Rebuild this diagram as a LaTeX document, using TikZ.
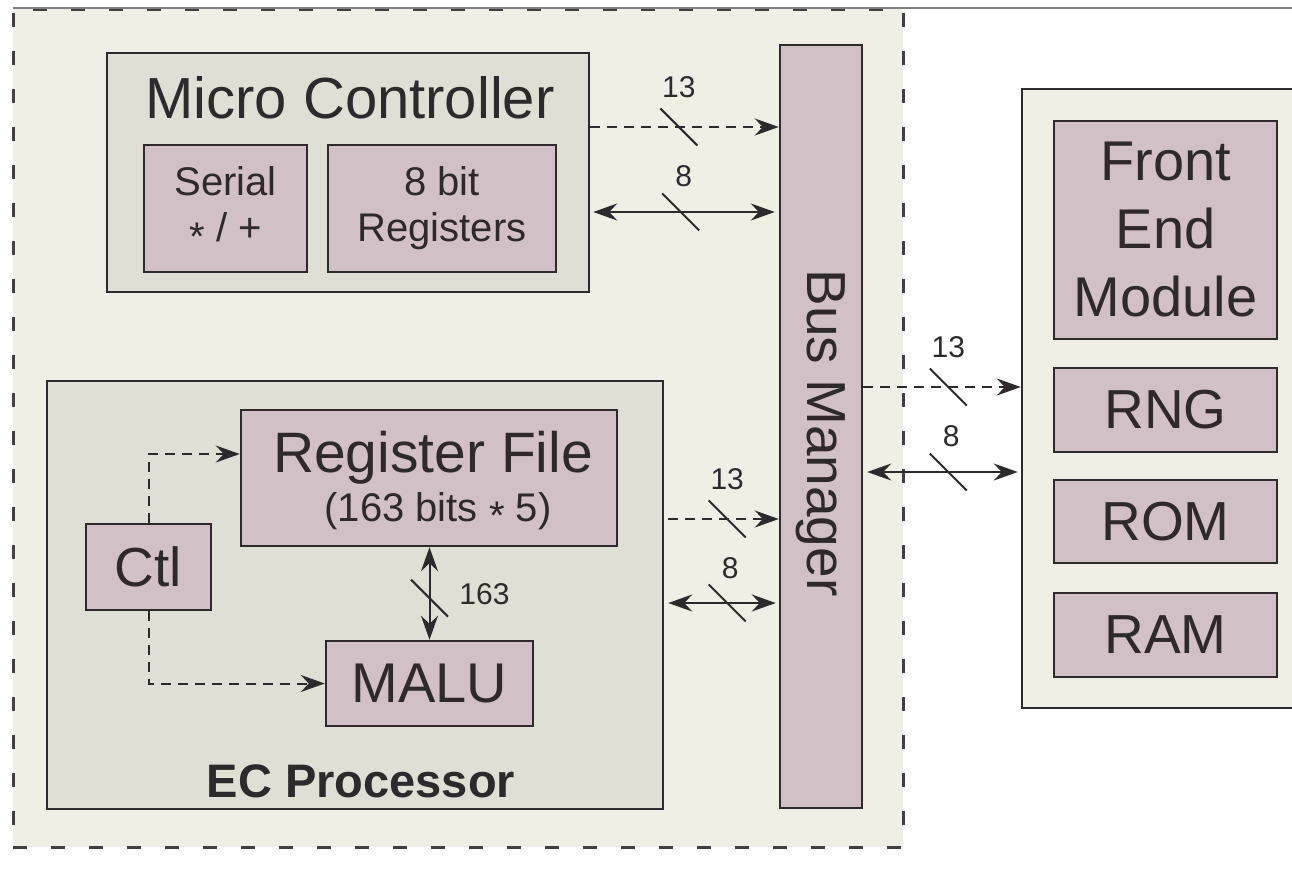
\documentclass[tikz,border=0pt]{standalone}
\usepackage{fontspec}
\setmainfont{Liberation Sans}
\usetikzlibrary{arrows.meta,calc}
\definecolor{cream}{HTML}{EFEFE6}
\definecolor{grayb}{HTML}{DFDFD5}
\definecolor{mauve}{HTML}{D1C0C6}
\definecolor{ink}{HTML}{2E2A2B}
\newcommand{\fs}[1]{\fontsize{#1}{#1}\selectfont}
\newcommand{\midstar}{\raisebox{-0.22em}{*}}
\begin{document}
\begin{tikzpicture}[x=1pt,y=-1pt,
  >={Stealth[length=24pt,width=17pt,inset=8pt]},
  blk/.style={draw=ink, line width=2.5pt, inner sep=0pt, text=ink},
  modbox/.style={blk, fill=mauve},
  grpbox/.style={blk, fill=grayb},
  conn/.style={draw=ink, line width=2pt},
  dconn/.style={conn, dash pattern=on 10pt off 7pt},
  slashln/.style={draw=ink, line width=2pt},
  lbl/.style={text=ink, inner sep=0pt, font=\fs{30}},
  txt/.style={text=ink, inner sep=0pt}]
\useasboundingbox (0,0) rectangle (1292,868);
\clip (0,0) rectangle (1292,868);
\fill[white] (0,0) rectangle (1292,868);
% outer dashed system box
\node[draw=ink!90, fill=cream, line width=3pt, dash pattern=on 14pt off 24pt,
      minimum width=890pt, minimum height=838pt, inner sep=0pt] (sys) at (458,428) {};
\draw[gray, line width=1.5pt] (13,8) -- (1292,8);
% right box
\node[blk, fill=cream, minimum width=300pt, minimum height=619pt] (ext) at (1172,398.5) {};
% micro controller
\node[grpbox, minimum width=482pt, minimum height=239pt] (mc) at (348,172.5) {};
\node[txt, anchor=base, font=\fs{58}] (mct) at (350,118) {Micro Controller};
\node[modbox, minimum width=163pt, minimum height=127pt, align=center, font=\fs{40}] (ser) at (225.5,208.5) {Serial\\[6pt]\midstar{} / +};
\node[modbox, minimum width=228pt, minimum height=127pt, align=center, font=\fs{40}] (reg) at (442,208.5) {8 bit\\[6pt]Registers};
% bus manager
\node[modbox, minimum width=82pt, minimum height=763pt] (bus) at (821,426.5) {};
\node[txt, rotate=-90, font=\fs{55}] (bust) at (821,433) {Bus Manager};
% EC processor
\node[grpbox, minimum width=616pt, minimum height=428pt] (ec) at (355,595) {};
\node[txt, anchor=base, font=\bfseries\fs{47}] (ect) at (361,797) {EC Processor};
\node[modbox, minimum width=376pt, minimum height=136pt] (rf) at (429,478) {};
\node[txt, anchor=base, font=\fs{57}] (rft) at (433,472) {Register File};
\node[txt, anchor=base, font=\fs{40}] (rfs) at (438,521) {(163 bits \midstar{} 5)};
\node[modbox, minimum width=125pt, minimum height=86pt, font=\fs{55}] (ctl) at (148.5,567) {Ctl};
\node[modbox, minimum width=207pt, minimum height=85pt, font=\fs{56}] (malu) at (429.5,683.5) {MALU};
% right modules
\node[modbox, minimum width=223pt, minimum height=218pt, align=center, font=\fontsize{56}{68}\selectfont] (fem) at (1165.5,230) {Front\\End\\Module};
\node[modbox, minimum width=223pt, minimum height=84pt, font=\fs{55}] (rng) at (1165.5,410) {RNG};
\node[modbox, minimum width=223pt, minimum height=83pt, font=\fs{55}] (rom) at (1165.5,521.5) {ROM};
\node[modbox, minimum width=223pt, minimum height=84pt, font=\fs{55}] (ram) at (1165.5,635) {RAM};
% rows
\coordinate (y1) at (0,127);
\coordinate (y2) at (0,212);
\coordinate (y3) at (0,387);
\coordinate (y4) at (0,472);
\coordinate (y5) at (0,519);
\coordinate (y6) at (0,603);
\coordinate (yc) at (0,454);
% connectors
\draw[dconn,->] (mc.east |- y1) -- coordinate[pos=0.47] (s1) (bus.west |- y1);
\draw[conn,<->, shorten <=3pt, shorten >=4pt] (mc.east |- y2) -- coordinate[pos=0.48] (s2) (bus.west |- y2);
\draw[dconn,->] (bus.east |- y3) -- coordinate[pos=0.54] (s3) (ext.west |- y3);
\draw[conn,<->, shorten <=4pt, shorten >=3pt] (bus.east |- y4) -- coordinate[pos=0.54] (s4) (ext.west |- y4);
\draw[dconn,->, shorten <=4pt] (ec.east |- y5) -- coordinate[pos=0.55] (s5) (bus.west |- y5);
\draw[conn,<->, shorten <=4pt, shorten >=3pt] (ec.east |- y6) -- coordinate[pos=0.55] (s6) (bus.west |- y6);
\draw[conn,<->] (rf.south -| malu.north) -- coordinate[pos=0.55] (s7) (malu.north);
\draw[dconn,->] (ctl.north) |- (rf.west |- yc);
\draw[dconn,->] (ctl.south) |- (malu.west);
% bus-width slashes
\foreach \s in {s1,s2,s3,s4,s5,s6,s7}{
  \draw[slashln] (\s) ++(-18.5,-18.5) -- ++(37,37);
}
% labels
\node[lbl] (l1) at ($(s1)+(0,-40)$) {13};
\node[lbl] (l2) at ($(s2)+(3,-36)$) {8};
\node[lbl] (l3) at ($(s3)+(0,-40)$) {13};
\node[lbl] (l4) at ($(s4)+(3,-36)$) {8};
\node[lbl] (l5) at ($(s5)+(0,-40)$) {13};
\node[lbl] (l6) at ($(s6)+(3,-35)$) {8};
\node[lbl] (l7) at ($(s7)+(55,-4)$) {163};
\end{tikzpicture}
\end{document}
